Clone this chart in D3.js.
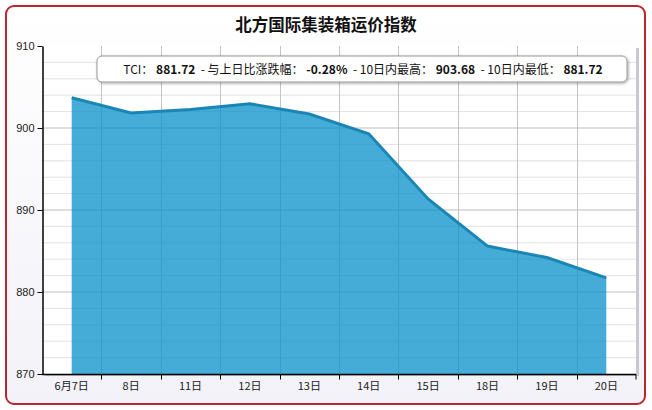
<!DOCTYPE html>
<html>
<head>
<meta charset="utf-8">
<script src="https://cdn.jsdelivr.net/npm/d3@7"></script>
<style>
  body { margin: 0; background: #fff; }
  svg { display: block; font-family: "Liberation Sans", "Noto Sans CJK SC", sans-serif; }
</style>
</head>
<body>
<svg width="652" height="410"></svg>
<script>
'use strict';
// chart data
var days = ["6月7日", "8日", "11日", "12日", "13日", "14日", "15日", "18日", "19日", "20日"];
var tci = [903.68, 901.83, 902.25, 902.95, 901.70, 899.30, 891.35, 885.60, 884.20, 881.72];
var yTicks = [870, 880, 890, 900, 910];
var infoParts = [
  ["TCI：", false], ["881.72", true], ["  - 与上日比涨跌幅：", false], ["-0.28%", true],
  ["  - 10日内最高：", false], ["903.68", true], ["  - 10日内最低：", false], ["881.72", true]
];

var svg = d3.select("svg");
var margin = { top: 46, right: 16, bottom: 36, left: 42 },
  width = 652 - margin.left - margin.right,
  height = 410 - margin.top - margin.bottom;

// background + red frame
var defs = svg.append("defs");
var bg = defs.append("linearGradient").attr("id", "bg").attr("x1", 0).attr("y1", 0).attr("x2", 0).attr("y2", 1);
bg.append("stop").attr("offset", "0%").attr("stop-color", "#ffffff");
bg.append("stop").attr("offset", "100%").attr("stop-color", "#f2f2f8");
var shadow = defs.append("filter").attr("id", "shadow").attr("x", "-10%").attr("y", "-50%").attr("width", "120%").attr("height", "200%");
shadow.append("feDropShadow").attr("dx", 1).attr("dy", 1).attr("stdDeviation", 1.5).attr("flood-color", "#000").attr("flood-opacity", 0.35);

svg.append("rect")
  .attr("x", 6).attr("y", 6).attr("width", 639).attr("height", 398)
  .attr("rx", 8)
  .attr("fill", "url(#bg)")
  .attr("stroke", "#b8282e")
  .attr("stroke-width", 2);

svg.append("text")
  .attr("x", 326).attr("y", 31)
  .attr("text-anchor", "middle")
  .style("font-family", "'Noto Sans CJK SC', sans-serif")
  .style("font-size", "16.5px")
  .style("font-weight", "bold")
  .attr("fill", "#111")
  .text("北方国际集装箱运价指数");

var g = svg.append("g").attr("transform", "translate(" + margin.left + "," + margin.top + ")");

// plot shadow and background
g.append("rect").attr("x", 3).attr("y", 2).attr("width", width).attr("height", height).attr("fill", "#c8c8d0");
g.append("rect").attr("width", width).attr("height", height).attr("fill", "#fff");

var x = d3.scaleBand().domain(days).range([0, width]);
var y = d3.scaleLinear().domain([870, 910]).range([height, 0]);

// horizontal grid every 2
g.append("g").selectAll("line")
  .data(d3.range(872, 910, 2))
  .enter().append("line")
  .attr("x1", 0).attr("x2", width)
  .attr("y1", function(d) { return y(d); })
  .attr("y2", function(d) { return y(d); })
  .attr("stroke", function(d) { return d % 10 === 0 ? "#bdbdbd" : "#e2e2e2"; })
  .attr("stroke-width", 1);

// vertical grid at band edges
g.append("g").selectAll("line")
  .data(days.slice(1))
  .enter().append("line")
  .attr("x1", function(d) { return Math.round(x(d)) + 0.5; })
  .attr("x2", function(d) { return Math.round(x(d)) + 0.5; })
  .attr("y1", 0).attr("y2", height)
  .attr("stroke", "#c4c4c4");

var cx = function(d, i) { return x(days[i]) + x.bandwidth() / 2; };

var area = d3.area()
  .x(cx)
  .y0(height)
  .y1(function(d) { return y(d); });
var line = d3.line()
  .x(cx)
  .y(function(d) { return y(d); });

g.append("path")
  .datum(tci)
  .attr("d", area)
  .attr("fill", "#0a92cc")
  .attr("fill-opacity", 0.76);

g.append("path")
  .datum(tci)
  .attr("d", line)
  .attr("fill", "none")
  .attr("stroke", "#1a86b6")
  .attr("stroke-width", 3);

// axes
var yAxis = g.append("g")
  .attr("transform", "translate(0.5,0)")
  .call(d3.axisLeft(y).tickValues(yTicks).tickSize(5).tickSizeOuter(0));
yAxis.select(".domain").attr("stroke", "#000").attr("stroke-width", 1.5);
yAxis.selectAll("text").style("font-size", "11px").attr("fill", "#222");

var xAxis = g.append("g")
  .attr("transform", "translate(0," + (height + 0.5) + ")");
xAxis.append("line").attr("x1", 0).attr("x2", width).attr("stroke", "#000").attr("stroke-width", 1.5);
xAxis.selectAll(".tk")
  .data(days.slice(1).concat(["end"]))
  .enter().append("line")
  .attr("x1", function(d) { return d === "end" ? width : Math.round(x(d)) + 0.5; })
  .attr("x2", function(d) { return d === "end" ? width : Math.round(x(d)) + 0.5; })
  .attr("y1", 0).attr("y2", 5)
  .attr("stroke", "#000");
xAxis.selectAll("text")
  .data(days)
  .enter().append("text")
  .attr("x", function(d) { return x(d) + x.bandwidth() / 2; })
  .attr("y", 15)
  .attr("text-anchor", "middle")
  .style("font-family", "'Noto Sans CJK SC', sans-serif")
  .style("font-size", "11px")
  .attr("fill", "#222")
  .text(function(d) { return d; });

// info box
var info = svg.append("g");
info.append("rect")
  .attr("x", 97).attr("y", 56).attr("width", 530).attr("height", 26)
  .attr("rx", 5)
  .attr("fill", "#fff")
  .attr("stroke", "#999")
  .attr("filter", "url(#shadow)");
var infoText = info.append("text")
  .attr("x", 363).attr("y", 73.5)
  .attr("text-anchor", "middle")
  .style("font-family", "'Noto Sans CJK SC', sans-serif")
  .style("font-size", "12px")
  .style("white-space", "pre")
  .attr("fill", "#111");
infoText.selectAll("tspan")
  .data(infoParts)
  .enter().append("tspan")
  .style("font-weight", function(d) { return d[1] ? "bold" : "normal"; })
  .text(function(d) { return d[1] ? " " + d[0] : d[0]; });
</script>
</body>
</html>
